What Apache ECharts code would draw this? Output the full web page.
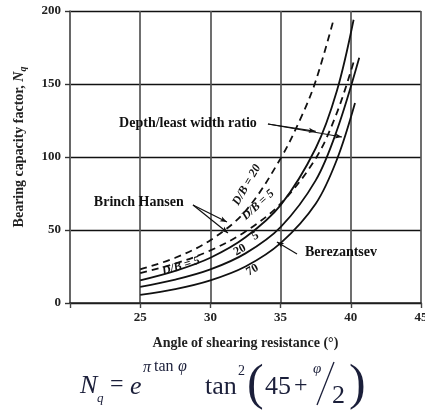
<!DOCTYPE html>
<html><head><meta charset="utf-8">
<script src="https://cdn.jsdelivr.net/npm/echarts@6/dist/echarts.min.js"></script>
<style>html,body{margin:0;padding:0;background:#fff}#c{width:425px;height:416px}</style>
</head><body><div id="c"></div>
<script>
// ---- data ----
const xTicks = [20, 25, 30, 35, 40, 45];
const yTicks = [0, 50, 100, 150, 200];
// Berezantsev (solid), depth/least width ratio 5, 20, 70
const phiBz5  = [25, 27.5, 30, 32.5, 35, 37.5, 39, 40.2];
const nqBz5   = [15.5, 22, 31, 45, 67, 106, 145, 194];
const phiBz20 = [25, 27.5, 30, 32.5, 35, 37.5, 39, 40.6];
const nqBz20  = [11, 16, 23, 34, 52, 84, 118, 168];
const phiBz70 = [25, 27.5, 30, 32.5, 35, 37.5, 39, 40.3];
const nqBz70  = [5.5, 9.5, 15.5, 25, 41, 68, 98, 137];
// Brinch Hansen (dashed), D/B = 5 and 20
const phiBH5  = [25, 27.5, 30, 32.5, 35, 37.5, 39, 40.2];
const nqBH5   = [20.5, 27, 36, 49, 68, 99, 130, 165];
const phiBH20 = [25, 27.5, 30, 32.5, 35, 36.5, 37.5, 38.8];
const nqBH20  = [23, 31, 43, 63, 99, 128, 152, 195];
// annotation texts [text, phi, Nq, rotation]
const noteText = ['Depth/least width ratio', 'Brinch Hansen', 'Berezantsev', 'D/B = 5', 'D/B = 20', 'D/B = 5', '5', '20', '70'];
const notePhi  = [28.4, 24.9, 39.3, 27.9, 32.6, 33.4, 33.2, 32.1, 33.0];
const noteNq   = [123.3, 69.2, 34.9, 25.3, 80.8, 67.1, 45.9, 36.3, 22.6];
const noteRot  = [0, 0, 0, 17, 60, 42, 30, 30, 30];
// leader lines [phi1, Nq1, phi2, Nq2]
const leaders = [
  [34.1, 122.6, 39.37, 113.7],
  [34.1, 122.6, 37.5, 117.5],
  [28.76, 67.1, 31.18, 55.5],
  [28.76, 67.1, 31.25, 47.9],
  [36.17, 33.6, 34.74, 41.8]
];

const pairs = (xs, ys) => xs.map((x, i) => [x, ys[i]]);
const serif = '"Liberation Serif", "DejaVu Serif", serif';
const ink = '#111';

const chart = echarts.init(document.getElementById('c'));
const lineSeries = (name, xs, ys, dashed) => ({
  name, type: 'line', data: pairs(xs, ys), smooth: 0.35, symbol: 'none',
  lineStyle: { color: ink, width: 1.8, type: dashed ? [7, 5] : 'solid' },
  silent: true, animation: false
});

chart.setOption({
  animation: false,
  grid: { left: 70, right: 4, top: 11, bottom: 113, containLabel: false, outerBoundsMode: 'none' },
  xAxis: {
    type: 'value', min: xTicks[0], max: xTicks[xTicks.length - 1], interval: 5,
    name: 'Angle of shearing resistance (°)', nameLocation: 'middle', nameGap: 33,
    nameTextStyle: { fontFamily: serif, fontSize: 14, fontWeight: 'bold', color: '#222' },
    axisLine: { lineStyle: { color: '#222', width: 1.6 } },
    axisTick: { length: 5, lineStyle: { color: '#444', width: 1.4 } },
    axisLabel: { fontFamily: serif, fontSize: 13, fontWeight: 'bold', color: '#222', margin: 8,
      hideOverlap: false,
      formatter: v => (xTicks.indexOf(v) > 0 ? String(v) : '') },
    splitLine: { show: true, lineStyle: { color: '#555', width: 1.7 } }
  },
  yAxis: {
    type: 'value', min: yTicks[0], max: yTicks[yTicks.length - 1], interval: 50,
    name: '{a|Bearing capacity factor, }{n|N}{s|q}', nameLocation: 'middle', nameGap: 42, nameRotate: 90,
    nameTextStyle: { fontFamily: serif, fontSize: 14, fontWeight: 'bold', color: '#222', padding: [0, 0, 0, 20],
      rich: {
        a: { fontFamily: serif, fontSize: 14, fontWeight: 'bold', color: '#222' },
        n: { fontFamily: serif, fontSize: 14, fontWeight: 'bold', fontStyle: 'italic', color: '#222' },
        s: { fontFamily: serif, fontSize: 10, fontWeight: 'bold', fontStyle: 'italic', color: '#222', padding: [7, 0, 0, 0] }
      } },
    axisLine: { show: true, lineStyle: { color: '#666', width: 1.7 } },
    axisTick: { show: true, length: 5, lineStyle: { color: '#333', width: 1.4 } },
    axisLabel: { fontFamily: serif, fontSize: 13, fontWeight: 'bold', color: '#222', margin: 9 },
    splitLine: { show: true, lineStyle: { color: '#111', width: 1.3 } }
  },
  series: [
    lineSeries('Berezantsev 5', phiBz5, nqBz5, false),
    lineSeries('Berezantsev 20', phiBz20, nqBz20, false),
    lineSeries('Berezantsev 70', phiBz70, nqBz70, false),
    lineSeries('Brinch Hansen 5', phiBH5, nqBH5, true),
    lineSeries('Brinch Hansen 20', phiBH20, nqBH20, true),
    {
      type: 'line', data: [], silent: true, animation: false,
      markPoint: {
        symbol: 'rect', symbolSize: 1, itemStyle: { color: 'rgba(0,0,0,0)' },
        data: noteText.map((t, i) => ({
          coord: [notePhi[i], noteNq[i]],
          label: { show: true, position: 'inside', formatter: t, rotate: noteRot[i],
            fontFamily: serif, fontSize: i < 3 ? 14 : 12, fontWeight: 'bold',
            fontStyle: (i >= 3 && i <= 5) ? 'italic' : 'normal', color: ink }
        }))
      },
      markLine: {
        symbol: ['none', 'arrow'], symbolSize: [4, 7],
        lineStyle: { color: ink, width: 1.2, type: 'solid' },
        label: { show: false },
        data: leaders.map(l => [{ coord: [l[0], l[1]] }, { coord: [l[2], l[3]] }])
      }
    }
  ],
  graphic: (() => {
    const fc = '#1b1f3a';
    const t = (text, x, y, size, italic) => ({
      type: 'text', x, y, silent: true,
      style: { text, fill: fc, font: (italic ? 'italic ' : '') + size + 'px ' + serif,
        textAlign: 'left', textVerticalAlign: 'middle' }
    });
    return [
      t('N', 80, 386, 26, true),
      t('q', 97, 399, 13, true),
      t('=', 110, 385, 24, false),
      t('e', 130, 387, 26, true),
      t('π', 143, 368, 16, true),
      t('tan', 154, 367, 16, false),
      t('φ', 178, 367, 16, true),
      t('tan', 205, 387, 26, false),
      t('2', 238, 371, 14, false),
      t('(', 247, 386, 50, false),
      t('45', 265, 387, 26, false),
      t('+', 294, 386, 24, false),
      t('φ', 313, 369, 15, true),
      { type: 'line', silent: true, shape: { x1: 317, y1: 405, x2: 334, y2: 362 },
        style: { stroke: fc, lineWidth: 1.3 } },
      t('2', 332, 396, 26, false),
      t(')', 349, 386, 50, false)
    ];
  })()
});
</script>
</body></html>
